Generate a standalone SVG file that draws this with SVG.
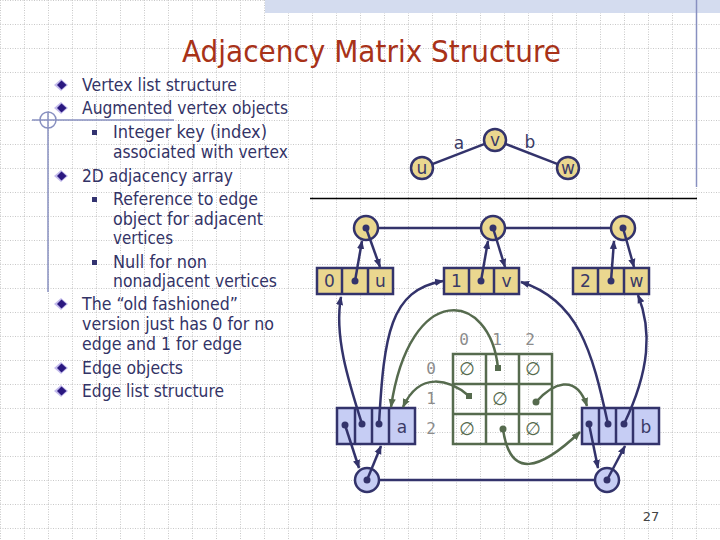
<svg xmlns="http://www.w3.org/2000/svg" width="720" height="540" viewBox="0 0 720 540">
<defs>
<style>
.body{font-family:"DejaVu Sans","Liberation Sans",sans-serif;font-size:17px;fill:#333366}
.lbl{font-family:"DejaVu Sans","Liberation Sans",sans-serif;font-size:17px;fill:#3a3a66;text-anchor:middle}
.idx{font-family:"DejaVu Sans Mono","Liberation Mono",monospace;font-size:16px;fill:#8c8c8c;text-anchor:middle}
.nul{font-family:"DejaVu Sans",sans-serif;font-size:18px;fill:#566b4e;text-anchor:middle}
.nv{stroke:#33336b;stroke-width:2.5;fill:none}
.gr{stroke:#566b4e;stroke-width:2.5;fill:none}
.yel{fill:#ead78f;stroke:#33336b;stroke-width:2.5}
.blu{fill:#c6cdf4;stroke:#33336b;stroke-width:2.5}
.dot{fill:#33336b}
.gdot{fill:#566b4e}
.deco{stroke:#8890c0;stroke-width:1.5;fill:none}
</style>
<pattern id="grid" width="24" height="24" patternUnits="userSpaceOnUse">
<path d="M0,0.5H24M0.5,0V24" stroke="#c8c8c8" stroke-width="1" stroke-dasharray="1,1.5" fill="none"/>
</pattern>
<marker id="an" viewBox="0 0 10 10" refX="9" refY="5" markerWidth="9" markerHeight="9" markerUnits="userSpaceOnUse" orient="auto"><path d="M0,1 L10,5 L0,9 z" fill="#33336b"/></marker>
<marker id="ag" viewBox="0 0 10 10" refX="9" refY="5" markerWidth="9" markerHeight="9" markerUnits="userSpaceOnUse" orient="auto"><path d="M0,1 L10,5 L0,9 z" fill="#566b4e"/></marker>
<g id="dia"><path d="M0,-6 L7,0 L0,6 L-7,0Z" fill="#c4bcec"/><path d="M0.5,-4.5 L5.5,0 L0.5,4.5 L-4,0Z" fill="#2a1880"/></g>
</defs>

<rect width="720" height="540" fill="#ffffff"/>
<rect width="720" height="540" fill="url(#grid)"/>

<g id="decoration">
<rect x="265" y="0" width="455" height="13" fill="#d4dcef"/>
<line x1="696.5" y1="0" x2="696.5" y2="187" class="deco"/>
<line x1="310" y1="198.5" x2="697" y2="198.5" stroke="#000" stroke-width="1.5"/>
<line x1="32" y1="120" x2="174" y2="120" class="deco"/>
<line x1="48" y1="112" x2="48" y2="292" class="deco"/>
<circle cx="48" cy="120" r="8" class="deco"/>
</g>

<text id="title" x="371.5" y="62" text-anchor="middle" font-family="DejaVu Sans,Liberation Sans,sans-serif" font-size="30" fill="#a83218" textLength="379" lengthAdjust="spacingAndGlyphs">Adjacency Matrix Structure</text>

<g id="bullets">
<use href="#dia" x="61" y="85"/>
<use href="#dia" x="61" y="108"/>
<rect x="92" y="130" width="5" height="5" fill="#333370"/>
<use href="#dia" x="61" y="176"/>
<rect x="92" y="197" width="5" height="5" fill="#333370"/>
<rect x="92" y="260" width="5" height="5" fill="#333370"/>
<use href="#dia" x="61" y="304"/>
<use href="#dia" x="61" y="368"/>
<use href="#dia" x="61" y="391"/>
<text class="body" x="82" y="91" textLength="155" lengthAdjust="spacingAndGlyphs">Vertex list structure</text>
<text class="body" x="82" y="114" textLength="206" lengthAdjust="spacingAndGlyphs">Augmented vertex objects</text>
<text class="body" x="113" y="138" textLength="154" lengthAdjust="spacingAndGlyphs">Integer key (index)</text>
<text class="body" x="113" y="158" textLength="175" lengthAdjust="spacingAndGlyphs">associated with vertex</text>
<text class="body" x="82" y="182" textLength="151" lengthAdjust="spacingAndGlyphs">2D adjacency array</text>
<text class="body" x="113" y="205" textLength="145" lengthAdjust="spacingAndGlyphs">Reference to edge</text>
<text class="body" x="113" y="225" textLength="150" lengthAdjust="spacingAndGlyphs">object for adjacent</text>
<text class="body" x="113" y="244" textLength="60" lengthAdjust="spacingAndGlyphs">vertices</text>
<text class="body" x="113" y="268" textLength="94" lengthAdjust="spacingAndGlyphs">Null for non</text>
<text class="body" x="113" y="287" textLength="164" lengthAdjust="spacingAndGlyphs">nonadjacent vertices</text>
<text class="body" x="82" y="310" textLength="156" lengthAdjust="spacingAndGlyphs">The “old fashioned”</text>
<text class="body" x="82" y="330" textLength="192" lengthAdjust="spacingAndGlyphs">version just has 0 for no</text>
<text class="body" x="82" y="350" textLength="160" lengthAdjust="spacingAndGlyphs">edge and 1 for edge</text>
<text class="body" x="82" y="374" textLength="101" lengthAdjust="spacingAndGlyphs">Edge objects</text>
<text class="body" x="82" y="397" textLength="142" lengthAdjust="spacingAndGlyphs">Edge list structure</text>
</g>

<g id="graph-u"><circle cx="422" cy="168" r="11" class="yel"/><text class="lbl" x="422" y="174" font-size="15">u</text></g>
<g id="graph-v"><circle cx="495" cy="140" r="11" class="yel"/><text class="lbl" x="495" y="146" font-size="15">v</text></g>
<g id="graph-w"><circle cx="568" cy="168" r="11" class="yel"/><text class="lbl" x="568" y="174" font-size="15">w</text></g>

<g id="vpos-u"><circle cx="366" cy="228" r="12" class="yel"/></g>
<g id="vpos-v"><circle cx="493" cy="228" r="12" class="yel"/></g>
<g id="vpos-w"><circle cx="623" cy="228" r="12" class="yel"/></g>

<g id="vbox-0">
<rect x="317" y="268" width="76" height="26" class="yel"/>
<line x1="342" y1="268" x2="342" y2="294" class="nv"/><line x1="368" y1="268" x2="368" y2="294" class="nv"/>
<text class="lbl" x="329.5" y="287">0</text><text class="lbl" x="380.5" y="287">u</text>
</g>
<g id="vbox-1">
<rect x="444" y="268" width="75" height="26" class="yel"/>
<line x1="469" y1="268" x2="469" y2="294" class="nv"/><line x1="494" y1="268" x2="494" y2="294" class="nv"/>
<text class="lbl" x="456.5" y="287">1</text><text class="lbl" x="506.5" y="287">v</text>
</g>
<g id="vbox-2">
<rect x="573" y="268" width="76" height="26" class="yel"/>
<line x1="598" y1="268" x2="598" y2="294" class="nv"/><line x1="624" y1="268" x2="624" y2="294" class="nv"/>
<text class="lbl" x="585.5" y="287">2</text><text class="lbl" x="636.5" y="287">w</text>
</g>

<g id="matrix">
<rect x="453" y="354" width="99" height="90" class="gr"/>
<line x1="486" y1="354" x2="486" y2="444" class="gr"/><line x1="519" y1="354" x2="519" y2="444" class="gr"/>
<line x1="453" y1="384" x2="552" y2="384" class="gr"/><line x1="453" y1="414" x2="552" y2="414" class="gr"/>
<text class="idx" x="464" y="345">0</text><text class="idx" x="497" y="345">1</text><text class="idx" x="530" y="345">2</text>
<text class="idx" x="431" y="374">0</text><text class="idx" x="431" y="404">1</text><text class="idx" x="431" y="434">2</text>
<text class="nul" x="467" y="375">∅</text><text class="nul" x="533" y="375">∅</text>
<text class="nul" x="500" y="405">∅</text>
<text class="nul" x="467" y="435">∅</text><text class="nul" x="533" y="435">∅</text>
</g>

<g id="ebox-a">
<rect x="337" y="408" width="78" height="36" class="blu"/>
<line x1="355" y1="408" x2="355" y2="444" class="nv"/><line x1="372" y1="408" x2="372" y2="444" class="nv"/><line x1="389" y1="408" x2="389" y2="444" class="nv"/>
<text class="lbl" x="402" y="433">a</text>
</g>
<g id="ebox-b">
<rect x="582" y="408" width="77" height="36" class="blu"/>
<line x1="599" y1="408" x2="599" y2="444" class="nv"/><line x1="616" y1="408" x2="616" y2="444" class="nv"/><line x1="633" y1="408" x2="633" y2="444" class="nv"/>
<text class="lbl" x="646" y="433">b</text>
</g>

<g id="epos-a"><circle cx="367" cy="480" r="12" class="blu"/></g>
<g id="epos-b"><circle cx="607" cy="480" r="12" class="blu"/></g>

<g id="connectors">
<line x1="432.3" y1="164.1" x2="484.7" y2="143.9" class="nv"/>
<line x1="505.3" y1="143.9" x2="557.7" y2="164.1" class="nv"/>
<text class="lbl" x="459" y="149" font-size="16">a</text>
<text class="lbl" x="530" y="148" font-size="16">b</text>
<line x1="378" y1="228" x2="481" y2="228" class="nv"/>
<line x1="505" y1="228" x2="611" y2="228" class="nv"/>
<line x1="379" y1="480" x2="595" y2="480" class="nv"/>

<path d="M355,281 L362,241" class="nv" marker-end="url(#an)"/>
<path d="M366,228 L380,267" class="nv" marker-end="url(#an)"/>
<path d="M481,281 L488,241" class="nv" marker-end="url(#an)"/>
<path d="M493,228 L505,267" class="nv" marker-end="url(#an)"/>
<path d="M611,281 L614,241" class="nv" marker-end="url(#an)"/>
<path d="M623,228 L634,267" class="nv" marker-end="url(#an)"/>

<path d="M345,425 L359,468" class="nv" marker-end="url(#an)"/>
<path d="M367,480 L381,446" class="nv" marker-end="url(#an)"/>
<path d="M589,424 L598,468" class="nv" marker-end="url(#an)"/>
<path d="M607,480 L625,446" class="nv" marker-end="url(#an)"/>

<path d="M362,424 C348,380 334,335 341,297" class="nv" marker-end="url(#an)"/>
<path d="M379,424 C384,335 390,290 443,281" class="nv" marker-end="url(#an)"/>
<path d="M608,424 C592,350 578,300 521,282" class="nv" marker-end="url(#an)"/>
<path d="M624,424 C650,370 652,330 638,295" class="nv" marker-end="url(#an)"/>

<path d="M498,368 C490,290 410,280 391,407" class="gr" marker-end="url(#ag)"/>
<path d="M469,396 C450,380 420,370 403,407" class="gr" marker-end="url(#ag)"/>
<path d="M536,402 C552,384 576,372 587,406" class="gr" marker-end="url(#ag)"/>
<path d="M503,429 C510,480 540,470 580,432" class="gr" marker-end="url(#ag)"/>

<circle cx="355" cy="281" r="3.5" class="dot"/><circle cx="481" cy="281" r="3.5" class="dot"/><circle cx="611" cy="281" r="3.5" class="dot"/>
<circle cx="366" cy="228" r="3.5" class="dot"/><circle cx="493" cy="228" r="3.5" class="dot"/><circle cx="623" cy="228" r="3.5" class="dot"/>
<circle cx="345" cy="425" r="3.5" class="dot"/><circle cx="362" cy="424" r="3.5" class="dot"/><circle cx="379" cy="424" r="3.5" class="dot"/>
<circle cx="589" cy="424" r="3.5" class="dot"/><circle cx="608" cy="424" r="3.5" class="dot"/><circle cx="624" cy="424" r="3.5" class="dot"/>
<circle cx="367" cy="480" r="3.5" class="dot"/><circle cx="607" cy="480" r="3.5" class="dot"/>
<rect x="495" y="365" width="6" height="6" class="gdot"/>
<rect x="466" y="393" width="6" height="6" class="gdot"/>
<circle cx="536" cy="402" r="3.5" class="gdot"/>
<circle cx="503" cy="429" r="3.5" class="gdot"/>
</g>

<text id="page" x="651" y="521" text-anchor="middle" font-family="DejaVu Sans,sans-serif" font-size="13" fill="#444">27</text>
</svg>
